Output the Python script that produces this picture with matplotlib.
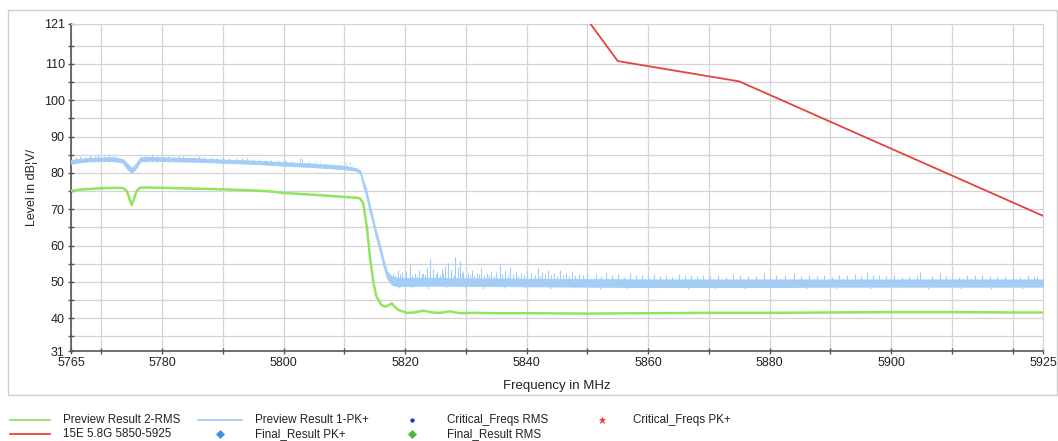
import numpy as np
import matplotlib
matplotlib.use('Agg')
import matplotlib.pyplot as plt
from matplotlib.lines import Line2D
from matplotlib.patches import Rectangle

plt.rcParams['font.family'] = ['Liberation Sans', 'DejaVu Sans']

# Limite 15E 5.8G (FCC 15.407) en dBµV/m
limit_f = [5850, 5855, 5875, 5925]
limit_v = [122.2, 110.8, 105.2, 68.2]

# Preview Result 1-PK+ : bande min / max de la trace
pk_f = [5765, 5766, 5768, 5770, 5772, 5773.5, 5774.3, 5775.0, 5775.7, 5776.4,
        5778, 5780, 5785, 5790, 5795, 5800, 5805, 5810, 5812.0, 5812.6,
        5813.1, 5813.6, 5814.2, 5814.6, 5815.0, 5815.5, 5815.9, 5816.4, 5817.0, 5817.8,
        5818.6, 5820, 5825, 5830, 5840, 5850, 5860, 5870, 5880, 5890,
        5900, 5910, 5920, 5925]
pk_lo = [82.5, 82.8, 83.2, 83.3, 83.3, 82.8, 81.0, 80.0, 81.2, 83.2,
         83.4, 83.3, 83.1, 82.8, 82.5, 82.0, 81.6, 81.0, 80.6, 79.8,
         76.5, 73.5, 69.0, 66.5, 63.5, 60.5, 58.0, 54.5, 51.0, 49.2,
         48.9, 48.9, 49.0, 48.9, 48.8, 48.7, 48.6, 48.6, 48.6, 48.7,
         48.7, 48.7, 48.7, 48.7]
pk_hi = [83.6, 83.8, 84.2, 84.3, 84.3, 83.9, 82.6, 81.4, 82.6, 84.3,
         84.4, 84.3, 84.1, 83.7, 83.4, 83.0, 82.6, 82.0, 81.3, 80.8,
         78.0, 75.5, 71.0, 68.5, 65.5, 62.5, 60.0, 56.5, 53.0, 51.5,
         51.2, 51.1, 51.1, 51.0, 50.9, 50.8, 50.7, 50.7, 50.7, 50.7,
         50.7, 50.7, 50.7, 50.7]

# pointes de bruit au-dessus de la trace PK+ (zone haute)
spike_hi_f = [5765.8, 5766.5, 5767.3, 5768.2, 5769.0, 5769.5, 5770.4, 5771.2, 5771.9, 5772.4,
              5776.6, 5777.1, 5777.8, 5778.3, 5779.2, 5780.1, 5781.0, 5782.0, 5782.8, 5783.5,
              5784.4, 5785.2, 5786.0, 5786.9, 5788.0, 5789.1, 5790.0, 5791.0, 5792.2, 5793.1,
              5794.0, 5795.0, 5796.0, 5797.0, 5798.0, 5799.1, 5800.2, 5801.3, 5802.7, 5803.0,
              5804.2, 5805.3, 5806.0, 5807.1, 5808.0, 5809.2, 5810.3, 5811.0]
spike_hi_v = [84.3, 84.8, 84.5, 85.0, 84.6, 84.9, 84.7, 85.1, 84.6, 84.6,
              84.5, 85.0, 84.7, 84.9, 84.6, 84.7, 84.8, 84.5, 84.6, 84.7,
              84.4, 84.5, 84.6, 84.4, 84.5, 84.2, 84.3, 84.2, 84.1, 84.0,
              84.0, 83.8, 83.9, 83.7, 83.6, 83.5, 83.6, 83.4, 84.0, 83.8,
              83.3, 83.2, 83.2, 83.0, 83.0, 82.7, 82.6, 82.4]

# pointes de bruit au-dessus du plancher PK+
spike_lo_f = [5818.0, 5818.8, 5819.5, 5820.2, 5820.8, 5821.6, 5822.3, 5823.0, 5823.6, 5824.1,
              5824.6, 5825.3, 5826.0, 5826.6, 5827.1, 5827.6, 5828.2, 5828.7, 5829.0, 5829.6,
              5830.3, 5831.0, 5831.8, 5832.5, 5833.4, 5834.2, 5835.0, 5835.6, 5836.4, 5837.3,
              5838.2, 5839.0, 5840.0, 5840.8, 5841.9, 5842.6, 5843.5, 5844.5, 5845.5, 5846.5,
              5847.5, 5848.6, 5850.0, 5851.5, 5853.0, 5855.0, 5857.0, 5859.0, 5861.0, 5863.0,
              5865.0, 5867.0, 5869.0, 5871.5, 5874.0, 5876.5, 5879.0, 5881.0, 5884.0, 5886.5,
              5889.0, 5891.5, 5894.0, 5896.0, 5898.0, 5900.5, 5903.0, 5904.8, 5908.0, 5910.0,
              5912.5, 5915.0, 5917.5, 5920.0, 5922.5, 5924.0]
spike_lo_v = [52.5, 53.2, 52.8, 53.0, 55.0, 52.6, 53.4, 52.4, 54.0, 56.2,
              53.5, 52.8, 53.6, 54.4, 55.2, 53.3, 56.9, 54.0, 55.8, 53.0,
              52.7, 53.4, 52.6, 53.8, 52.5, 53.0, 52.8, 54.7, 52.9, 54.2,
              53.0, 52.4, 53.1, 52.6, 53.8, 52.8, 53.2, 52.4, 53.3, 52.6,
              53.0, 52.3, 52.6, 52.2, 52.8, 52.1, 52.5, 51.9, 52.3, 52.0,
              52.2, 51.8, 52.0, 51.9, 52.1, 51.7, 52.4, 51.8, 52.6, 51.9,
              52.0, 51.8, 52.3, 52.8, 51.9, 52.0, 51.7, 52.8, 52.6, 51.9,
              51.8, 52.0, 51.7, 51.9, 51.8, 51.6]
spike_sm_f = [5818.4, 5819.1, 5819.9, 5821.2, 5822.0, 5822.7, 5823.3, 5825.0, 5825.7, 5826.3,
              5828.0, 5829.3, 5830.0, 5830.7, 5831.4, 5832.1, 5833.0, 5833.8, 5834.6, 5836.0,
              5836.9, 5837.8, 5838.6, 5839.5, 5841.3, 5842.2, 5843.0, 5844.0, 5845.0, 5846.0,
              5847.0, 5848.0, 5849.3, 5852.2, 5854.0, 5856.0, 5858.0, 5860.0, 5862.0, 5864.0,
              5866.0, 5868.0, 5870.2, 5872.8, 5875.2, 5877.8, 5880.0, 5882.5, 5885.2, 5887.8,
              5890.2, 5892.8, 5895.0, 5897.0, 5899.2, 5901.8, 5904.2, 5906.8, 5909.0, 5911.2,
              5913.8, 5916.2, 5918.8, 5921.2, 5923.5]
spike_sm_v = [51.9, 52.2, 51.8, 52.0, 51.7, 52.3, 51.9, 52.1, 51.8, 52.5,
              52.0, 52.4, 51.8, 52.0, 51.7, 52.2, 51.9, 52.0, 51.6, 52.1,
              51.8, 52.2, 51.7, 51.9, 52.0, 51.7, 52.1, 51.8, 51.6, 52.0,
              51.7, 51.9, 51.8, 51.6, 51.9, 51.5, 51.8, 51.6, 51.7, 51.5,
              51.8, 51.6, 51.7, 51.5, 51.8, 51.6, 51.5, 51.9, 51.6, 51.7,
              51.5, 51.8, 51.6, 51.9, 51.7, 51.5, 51.8, 51.6, 51.7, 51.5,
              51.8, 51.6, 51.7, 51.5, 51.7]
# creux sous le plancher PK+
dip_lo_f = [5819.0, 5821.0, 5823.8, 5826.8, 5829.8, 5832.8, 5836.2, 5839.8, 5843.8, 5847.8,
            5852.0, 5856.5, 5861.5, 5866.5, 5871.0, 5876.0, 5881.5, 5886.0, 5891.0, 5896.5,
            5901.0, 5906.0, 5911.5, 5916.5, 5921.5]
dip_lo_v = [48.3, 48.4, 48.2, 48.4, 48.3, 48.2, 48.4, 48.3, 48.1, 48.3,
            48.2, 48.1, 48.3, 48.0, 48.2, 48.1, 48.3, 48.0, 48.2, 48.1,
            48.3, 48.0, 48.2, 48.1, 48.2]

# Preview Result 2-RMS
rms_f = [5765, 5767, 5770, 5773, 5773.6, 5774.2, 5774.6, 5775.0, 5775.4, 5775.8,
         5776.3, 5777, 5780, 5785, 5790, 5795, 5798, 5800, 5805, 5810,
         5812.0, 5812.6, 5813.1, 5813.7, 5814.2, 5814.8, 5815.3, 5816.1, 5816.7, 5817.3,
         5817.8, 5818.3, 5818.9, 5820.3, 5821.5, 5823, 5824.5, 5825.7, 5827.4, 5829,
         5831.2, 5835, 5840, 5850, 5860, 5870, 5880, 5890, 5900, 5910,
         5920, 5925]
rms_v = [75.1, 75.5, 75.8, 75.9, 75.8, 75.0, 73.0, 71.2, 73.0, 75.0,
         75.9, 76.0, 75.9, 75.7, 75.5, 75.2, 74.9, 74.5, 74.0, 73.4,
         73.2, 73.0, 71.6, 65.2, 57.0, 49.6, 45.9, 43.7, 43.2, 43.6,
         44.1, 43.2, 42.3, 41.5, 41.6, 42.1, 41.6, 41.5, 41.9, 41.4,
         41.5, 41.4, 41.4, 41.3, 41.4, 41.5, 41.5, 41.6, 41.7, 41.7,
         41.6, 41.6]

x_ticks = [5765] + list(range(5770, 5921, 10)) + [5925]
x_labels = {5765: '5765', 5780: '5780', 5800: '5800', 5820: '5820', 5840: '5840',
            5860: '5860', 5880: '5880', 5900: '5900', 5925: '5925'}
y_ticks = [31] + list(range(35, 116, 5)) + [121]
y_labels = {31: '31', 40: '40', 50: '50', 60: '60', 70: '70', 80: '80',
            90: '90', 100: '100', 110: '110', 121: '121'}

c_pk = '#a3cdf6'
c_rms = '#8fe55e'
c_lim = '#e5433d'

W, H = 1058, 441
fig = plt.figure(figsize=(W / 100, H / 100), dpi=100)
ax = fig.add_axes([71 / W, 1 - 351 / H, 972 / W, 327 / H])

# cadre gris autour du graphique
fig.add_artist(Rectangle((8 / W, 1 - 395 / H), 1049 / W, 385 / H, transform=fig.transFigure,
                         fill=False, edgecolor='#cfcfcf', linewidth=1.0))

ax.fill_between(pk_f, pk_lo, pk_hi, color=c_pk, linewidth=0.6, edgecolor=c_pk, zorder=3)
ax.vlines(spike_hi_f, 83.0, spike_hi_v, color=c_pk, linewidth=0.8, zorder=3)
ax.vlines(spike_lo_f, 50.0, spike_lo_v, color=c_pk, linewidth=0.8, zorder=3)
ax.vlines(spike_sm_f, 50.0, spike_sm_v, color=c_pk, linewidth=0.8, zorder=3)
ax.vlines(dip_lo_f, dip_lo_v, 49.5, color=c_pk, linewidth=0.8, zorder=3)
ax.plot(rms_f, rms_v, color=c_rms, linewidth=1.8, zorder=4)
ax.plot(limit_f, limit_v, color=c_lim, linewidth=1.3, zorder=5)

ax.set_xlim(5765, 5925)
ax.set_ylim(31, 121)
ax.set_xticks(x_ticks)
ax.set_xticklabels([x_labels.get(t, '') for t in x_ticks])
ax.set_yticks(y_ticks)
ax.set_yticklabels([y_labels.get(t, '') for t in y_ticks])
ax.grid(True, color='#d4d4d4', linewidth=0.9)
ax.set_axisbelow(True)
ax.tick_params(direction='inout', length=5, width=1, color='#555555',
               labelsize=9, labelcolor='#222222', pad=2)
for s in ['left', 'bottom']:
    ax.spines[s].set_color('#555555')
    ax.spines[s].set_linewidth(1.2)
for s in ['top', 'right']:
    ax.spines[s].set_color('#d4d4d4')
ax.set_xlabel('Frequency in MHz', fontsize=9.5, color='#222222')
ax.xaxis.set_label_coords(0.5, -(380 - 351) / 327)
ax.set_ylabel('Level in dB¦V/', fontsize=9, color='#222222')
ax.yaxis.set_label_coords(-(71 - 38) / 972, 0.5)

# légende dessinée à la main sous le cadre
def fx(x):
    return x / W

def fy(y):
    return 1 - y / H

legend_lines = [(10, 50, 420, c_rms, 'Preview Result 2-RMS', 63),
                (10, 50, 434, c_lim, '15E 5.8G 5850-5925', 63),
                (198, 242, 420, c_pk, 'Preview Result 1-PK+', 255)]
for x0, x1, y, c, lab, tx in legend_lines:
    fig.add_artist(Line2D([fx(x0), fx(x1)], [fy(y), fy(y)], color=c, linewidth=1.3,
                          transform=fig.transFigure))
    fig.text(fx(tx), fy(y), lab, fontsize=8.4, color='#222222', va='center', ha='left')

legend_marks = [(220, 434, 'D', 4.5, '#3f92dc', 'Final_Result PK+', 255),
                (412, 420, 'o', 2.5, '#2424c8', 'Critical_Freqs RMS', 447),
                (412, 434, 'D', 4.5, '#4fb83e', 'Final_Result RMS', 447),
                (602, 420, '*', 4.5, '#e33a3a', 'Critical_Freqs PK+', 633)]
for x, y, m, ms, c, lab, tx in legend_marks:
    fig.add_artist(Line2D([fx(x)], [fy(y)], marker=m, markersize=ms, color=c, linestyle='none',
                          markeredgewidth=0.5, transform=fig.transFigure))
    fig.text(fx(tx), fy(y), lab, fontsize=8.4, color='#222222', va='center', ha='left')

fig.savefig('out.png', dpi=100)
